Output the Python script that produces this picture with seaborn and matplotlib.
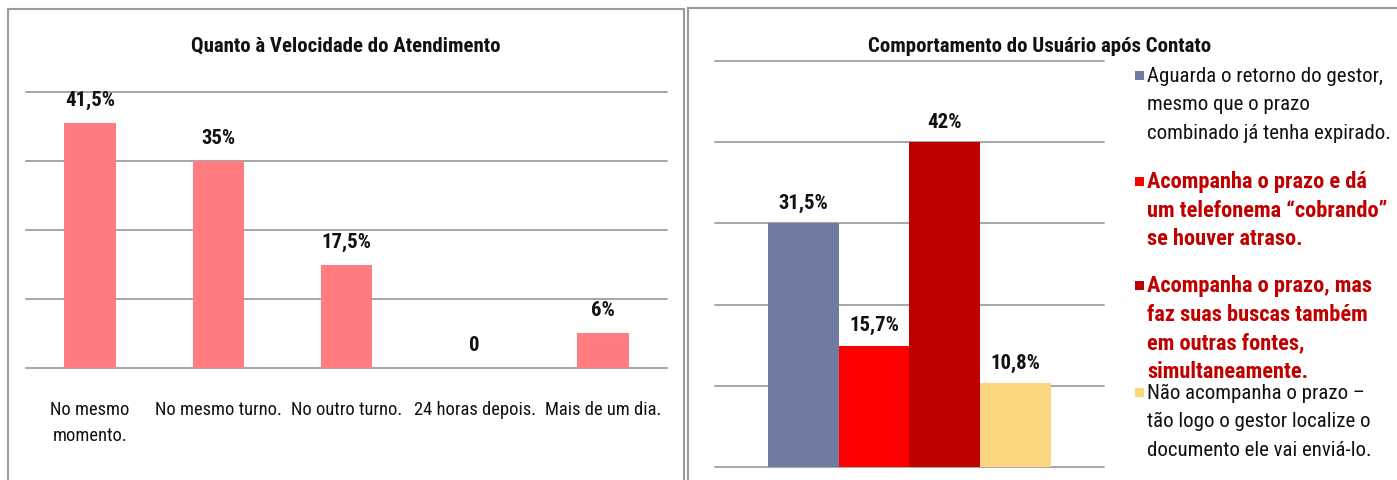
import matplotlib
matplotlib.use("Agg")
import matplotlib.pyplot as plt
from matplotlib import font_manager
from matplotlib.patches import Rectangle
import seaborn as sns
import pandas as pd

# ---- data ----
speed_categories = ["No mesmo\nmomento.", "No mesmo turno.", "No outro turno.",
                    "24 horas depois.", "Mais de um dia."]
speed_values = [41.5, 35, 17.5, 0, 6]
speed_labels = ["41,5%", "35%", "17,5%", "0", "6%"]

behav_series = [
    "Aguarda o retorno do gestor,\nmesmo que o prazo\ncombinado já tenha expirado.",
    "Acompanha o prazo e dá\num telefonema \u201ccobrando\u201d\nse houver atraso.",
    "Acompanha o prazo, mas\nfaz suas buscas também\nem outras fontes,\nsimultaneamente.",
    "Não acompanha o prazo \u2013\ntão logo o gestor localize o\ndocumento ele vai enviá-lo.",
]
behav_values = [31.5, 15.7, 42, 10.8]
behav_labels = ["31,5%", "15,7%", "42%", "10,8%"]

title_left = "Quanto à Velocidade do Atendimento"
title_right = "Comportamento do Usuário após Contato"

# ---- style ----
sns.set_theme(style="white")
fonts = font_manager.fontManager.ttflist
cond = [f for f in fonts if ("Narrow" in f.name or "Condensed" in f.name
                             or str(f.stretch) in ("condensed", "semi-condensed",
                                                   "extra-condensed"))]
stretch = "normal"
main_font = "Liberation Sans"
for pref in ["Liberation Sans Narrow", "Arial Narrow", "Roboto Condensed",
             "Open Sans Condensed", "DejaVu Sans Condensed"]:
    if any(f.name == pref for f in fonts):
        main_font = pref
        break
else:
    c2 = [f for f in cond if "Sans" in f.name]
    if c2:
        main_font = c2[0].name
        stretch = "condensed"
plt.rcParams["font.family"] = [main_font, "DejaVu Sans"]
plt.rcParams["font.stretch"] = stretch

W, H = 1397, 481
fig = plt.figure(figsize=(W / 100, H / 100), dpi=100)
fig.patch.set_facecolor("white")
renderer = fig.canvas.get_renderer()


def fit_size(s, target_px, weight="normal"):
    t = fig.text(0, 0, s, fontsize=20, fontweight=weight)
    w = t.get_window_extent(renderer=renderer).width
    t.remove()
    return 20 * target_px / w


def fx(px):
    return px / W


def fy(py):
    return 1 - py / H


grid_color = "#A6A6A6"
dark = "#111111"

fs_title = min(fit_size(title_left, 310, "bold"), fit_size(title_right, 385, "bold"))
fs_tick = min(fit_size("24 horas depois.", 122), fit_size("No mesmo turno.", 129))
fs_val = fit_size("41,5%", 50, "bold")
fs_leg_n = fit_size("combinado já tenha expirado.", 243)
fs_leg_b = fit_size("um telefonema \u201ccobrando\u201d", 240, "bold")

# ---- left panel ----
ax1 = fig.add_axes([fx(26), fy(369), fx(667 - 26), (369 - 93) / H])
df1 = pd.DataFrame({"cat": speed_categories, "val": speed_values})
sns.barplot(data=df1, x="cat", y="val", color="#FF7C80", saturation=1,
            width=0.4, linewidth=0, ax=ax1)
step1 = 35 / 3
ax1.set_yticks([step1 * i for i in range(5)])
ax1.set_ylim(0, step1 * 4)
ax1.set_xlim(-0.5, 4.5)
ax1.yaxis.grid(True, color=grid_color, linewidth=1.4)
ax1.set_axisbelow(True)
for ln in ax1.get_ygridlines():
    ln.set_clip_on(False)
for s in ax1.spines.values():
    s.set_visible(False)
ax1.set_yticklabels([])
ax1.set_xlabel("")
ax1.set_ylabel("")
ax1.tick_params(axis="both", length=0)
ax1.tick_params(axis="x", pad=23, labelsize=fs_tick, labelcolor=dark)
for t in ax1.get_xticklabels():
    t.set_verticalalignment("top")
    t.set_linespacing(1.55)
ax1.bar_label(ax1.containers[0], labels=speed_labels, padding=10,
              fontsize=fs_val, fontweight="bold", color=dark)
fig.text(fx(346), fy(46), title_left, ha="center", va="center",
         fontsize=fs_title, fontweight="bold", color=dark)

# ---- right panel ----
ax2 = fig.add_axes([fx(715), fy(468), fx(1104 - 715), (468 - 62) / H])
df2 = pd.DataFrame({"grp": [""] * 4, "series": behav_series, "val": behav_values})
colors = ["#6F7BA1", "#FF0000", "#C00000", "#FAD67F"]
sns.barplot(data=df2, x="grp", y="val", hue="series", hue_order=behav_series,
            palette=colors, saturation=1, width=0.725, gap=0, linewidth=0,
            legend=False, ax=ax2)
step2 = 10.5
ax2.set_yticks([step2 * i for i in range(6)])
ax2.set_ylim(0, step2 * 5)
ax2.set_xlim(-0.5, 0.5)
ax2.yaxis.grid(True, color=grid_color, linewidth=1.4)
ax2.set_axisbelow(True)
for ln in ax2.get_ygridlines():
    ln.set_clip_on(False)
for s in ax2.spines.values():
    s.set_visible(False)
ax2.set_yticklabels([])
ax2.set_xticklabels([])
ax2.set_xlabel("")
ax2.set_ylabel("")
ax2.tick_params(axis="both", length=0)
for cont, lab in zip(ax2.containers, behav_labels):
    ax2.bar_label(cont, labels=[lab], padding=8, fontsize=fs_val,
                  fontweight="bold", color=dark)
fig.text(fx(1040), fy(46), title_right, ha="center", va="center",
         fontsize=fs_title, fontweight="bold", color=dark)

# ---- manual legend ----
legend_text_colors = [dark, "#C00000", "#C00000", dark]
legend_weights = ["normal", "bold", "bold", "normal"]
legend_first_line_y = [76, 182, 286, 393]
for lab, col, tcol, wt, y0 in zip(behav_series, colors, legend_text_colors,
                                   legend_weights, legend_first_line_y):
    fig.patches.append(Rectangle((fx(1135), fy(y0 + 4.5)), fx(9), 9 / H,
                                 transform=fig.transFigure, facecolor=col,
                                 edgecolor="none"))
    lines = lab.split("\n")
    fs = fs_leg_b if wt == "bold" else fs_leg_n
    for i, line in enumerate(lines):
        fig.text(fx(1147), fy(y0 + 28.7 * i), line, ha="left", va="center",
                 fontsize=fs, fontweight=wt, color=tcol)

# ---- panel frames ----
fig.patches.append(Rectangle((fx(8), fy(H + 5)), fx(684 - 8), (H + 5 - 10) / H,
                             transform=fig.transFigure, facecolor="none",
                             edgecolor="#9A9A9A", linewidth=1.5))
fig.patches.append(Rectangle((fx(688), fy(H + 5)), fx(W + 5 - 688), (H + 5 - 9) / H,
                             transform=fig.transFigure, facecolor="none",
                             edgecolor="#9A9A9A", linewidth=1.5))

fig.savefig("out.png", dpi=100, facecolor="white")
